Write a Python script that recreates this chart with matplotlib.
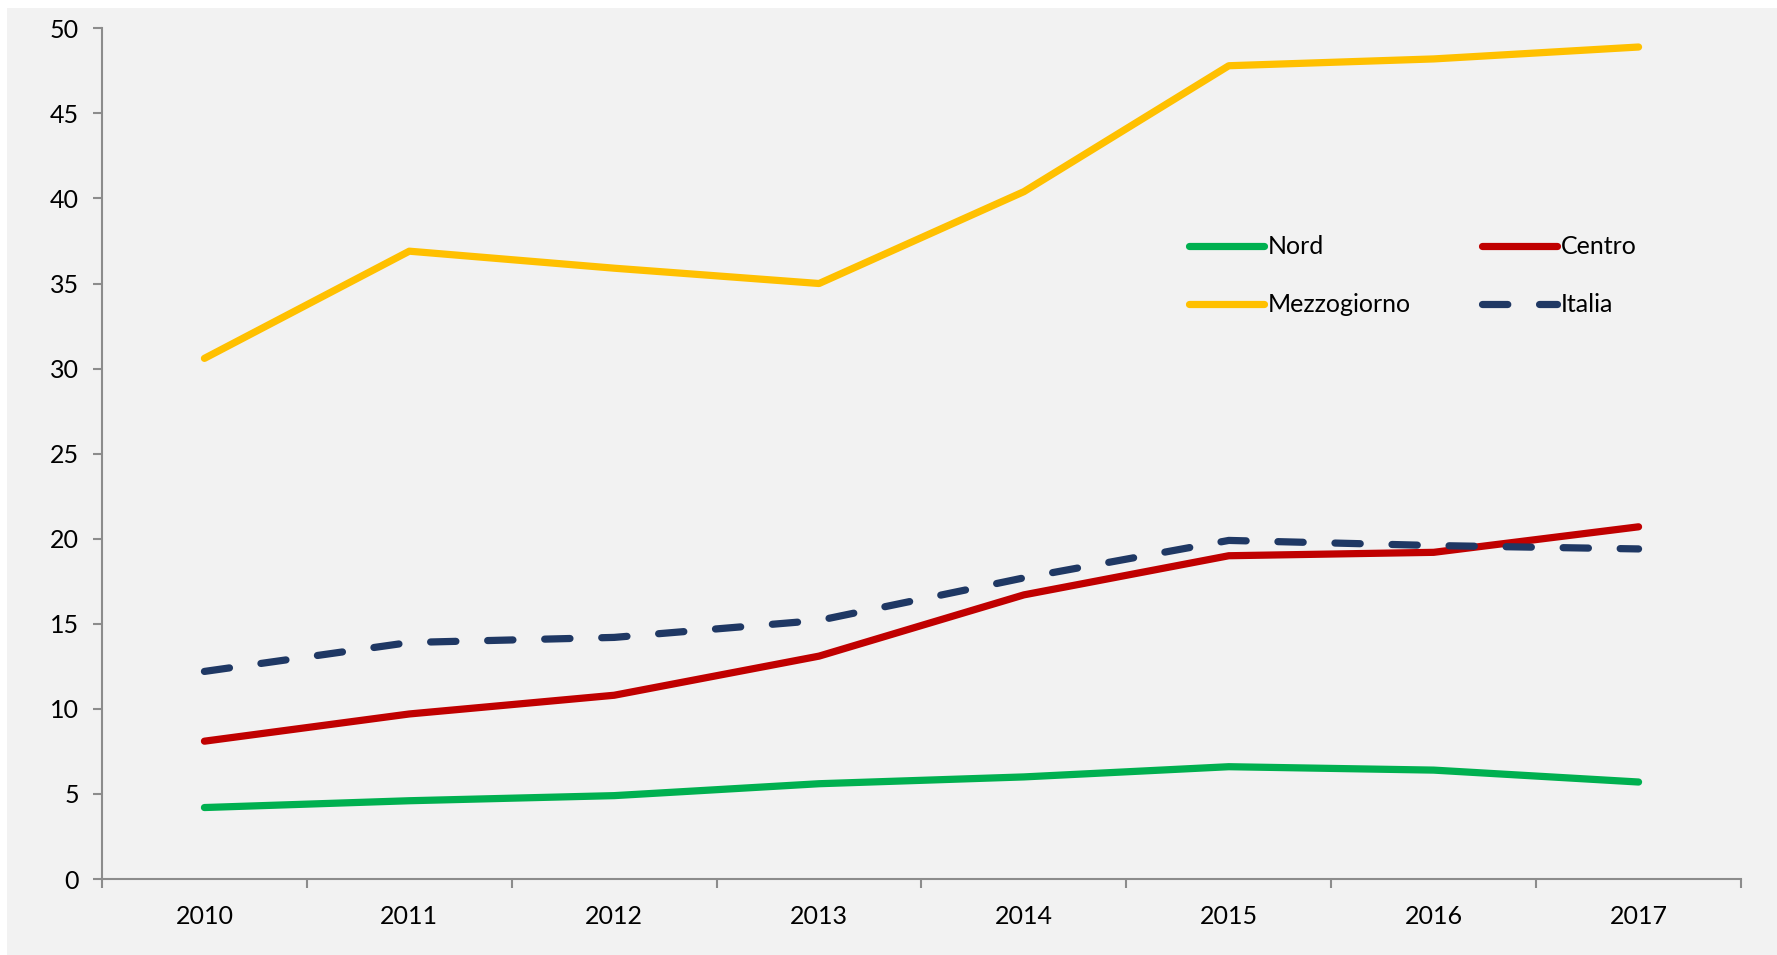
import matplotlib
matplotlib.use("Agg")
import matplotlib.pyplot as plt
from matplotlib.patches import Rectangle

years = ["2010", "2011", "2012", "2013", "2014", "2015", "2016", "2017"]
nord = [4.2, 4.6, 4.9, 5.6, 6.0, 6.6, 6.4, 5.7]
centro = [8.1, 9.7, 10.8, 13.1, 16.7, 19.0, 19.2, 20.7]
mezzogiorno = [30.6, 36.9, 35.9, 35.0, 40.4, 47.8, 48.2, 48.9]
italia = [12.2, 13.9, 14.2, 15.2, 17.7, 19.9, 19.6, 19.4]
yticks = [0, 5, 10, 15, 20, 25, 30, 35, 40, 45, 50]

plt.rcParams['font.family'] = ['Lato', 'DejaVu Sans']

W, H = 1777, 955
fig = plt.figure(figsize=(W / 100, H / 100), dpi=100, facecolor='white')
bg = '#f2f2f2'
fig.patches.append(Rectangle((7 / W, 0), 1 - 7 / W, 1 - 8 / H, transform=fig.transFigure,
                             facecolor=bg, edgecolor='none', zorder=-10))

ax = fig.add_axes([102 / W, 1 - 879 / H, (1741 - 102) / W, (879 - 28.3) / H])
ax.set_facecolor(bg)
ax.set_zorder(1)

x = list(range(len(years)))
lw = 5.2
l_nord, = ax.plot(x, nord, color='#00b050', lw=lw, solid_capstyle='round', label='Nord')
l_cen, = ax.plot(x, centro, color='#c00000', lw=lw, solid_capstyle='round', label='Centro')
l_mez, = ax.plot(x, mezzogiorno, color='#ffc000', lw=lw, solid_capstyle='round', label='Mezzogiorno')
l_it, = ax.plot(x, italia, color='#1f3864', lw=lw, dash_capstyle='round', label='Italia')
l_it.set_dashes((3.5, 4.4))

ax.set_xlim(-0.5, len(years) - 0.5)
ax.set_ylim(0, 50)
ax.set_yticks(yticks)
ax.set_xticks([i - 0.5 for i in range(len(years) + 1)])
ax.set_xticklabels([])
ax.set_xticks(x, minor=True)
ax.set_xticklabels(years, minor=True)

spine_c = '#8c8c8c'
for s in ['top', 'right']:
    ax.spines[s].set_visible(False)
for s in ['left', 'bottom']:
    ax.spines[s].set_color(spine_c)
    ax.spines[s].set_linewidth(1.5)

ax.tick_params(axis='y', which='major', direction='out', length=6.5, width=1.5, color=spine_c,
               labelsize=18, pad=10)
ax.tick_params(axis='x', which='major', direction='out', length=6.5, width=1.5, color=spine_c)
ax.tick_params(axis='x', which='minor', length=0, labelsize=18, pad=19)

handles = [l_nord, l_mez, l_cen, l_it]
leg = ax.legend(handles, [h.get_label() for h in handles], ncol=2, loc='upper left',
                bbox_to_anchor=(0.6496, 0.783), frameon=False,
                fontsize=18, handlelength=3.0, handletextpad=0.15, columnspacing=2.85,
                labelspacing=1.4)

fig.savefig('out.png', dpi=100, facecolor='white')
